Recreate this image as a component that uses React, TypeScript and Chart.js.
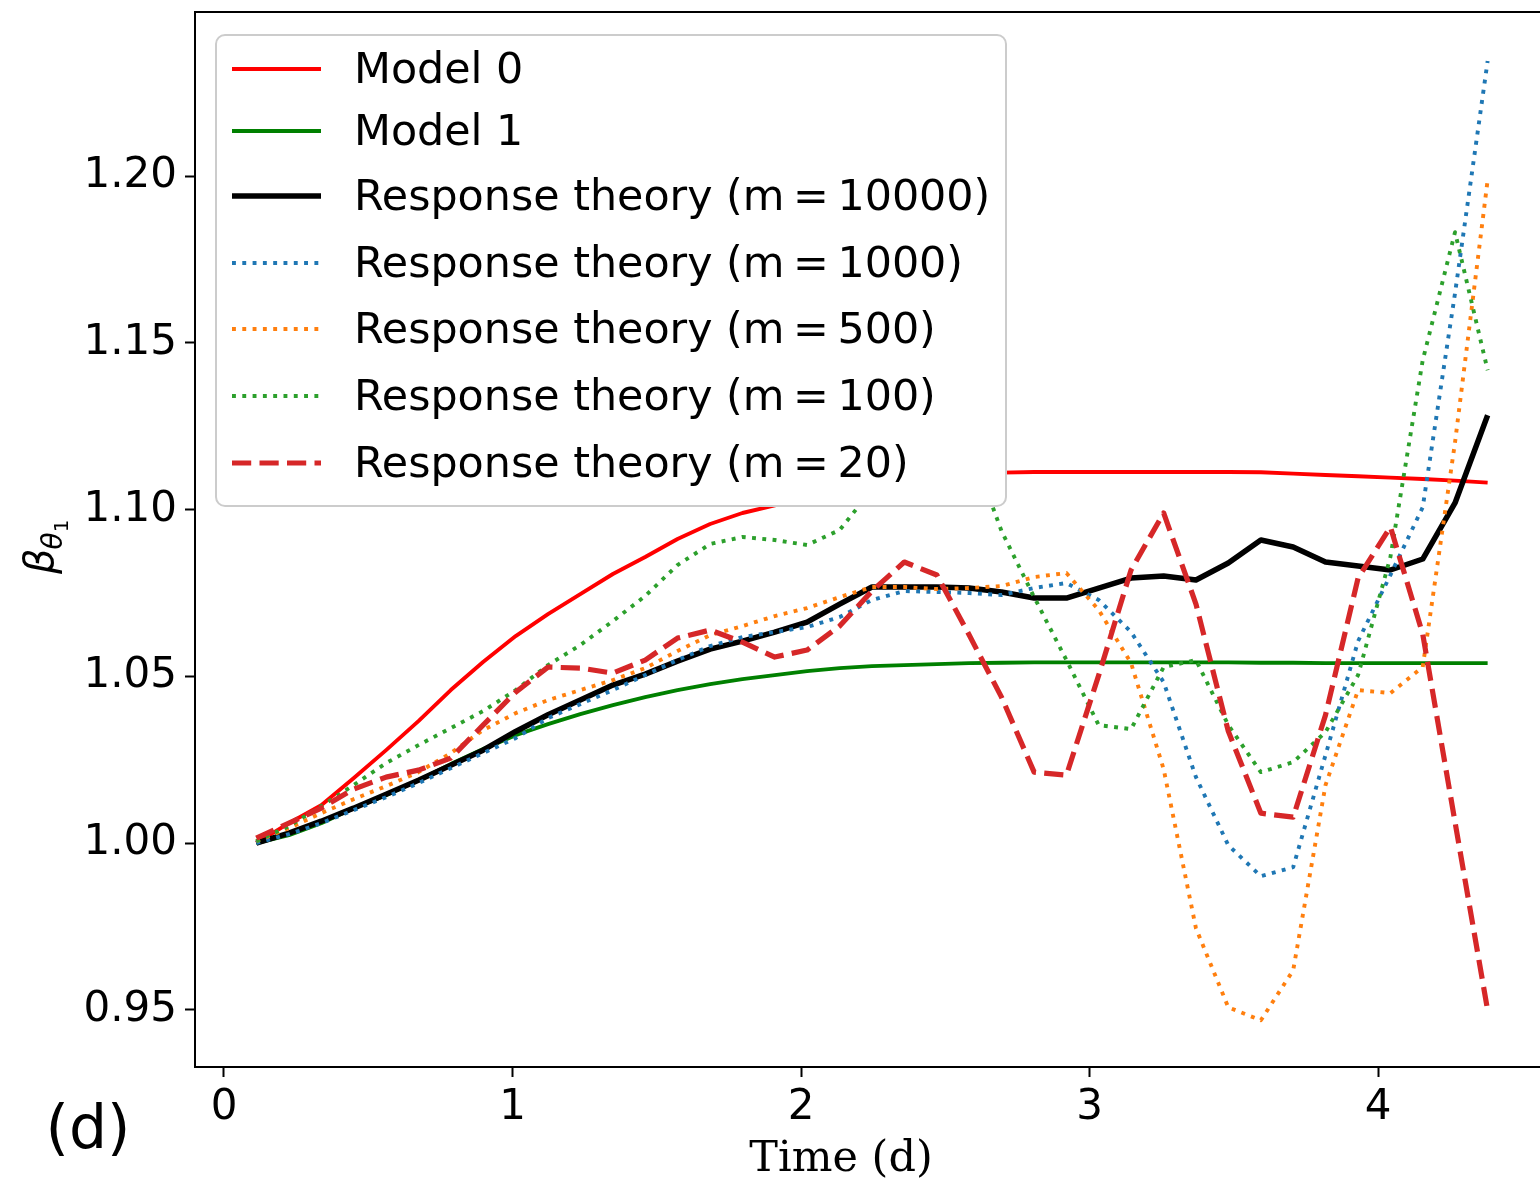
import React, { useEffect, useRef } from 'react';
import { Chart, registerables } from 'chart.js';

Chart.register(...registerables);

// ---- data ----
const times = [0.112, 0.225, 0.337, 0.449, 0.562, 0.674, 0.786, 0.898, 1.011, 1.123, 1.235, 1.348, 1.460, 1.572, 1.685, 1.797, 1.909, 2.021, 2.134, 2.246, 2.358, 2.471, 2.583, 2.695, 2.808, 2.920, 3.032, 3.144, 3.257, 3.369, 3.481, 3.594, 3.706, 3.818, 3.931, 4.043, 4.155, 4.267, 4.380];

const model0 = [1.000, 1.006, 1.0114, 1.0195, 1.0279, 1.0366, 1.0459, 1.0543, 1.0621, 1.0687, 1.0747, 1.0807, 1.0858, 1.0912, 1.0957, 1.099, 1.1013, 1.104, 1.1062, 1.108, 1.1093, 1.1102, 1.1108, 1.1111, 1.1113, 1.1113, 1.1113, 1.1113, 1.1113, 1.1113, 1.1113, 1.1112, 1.1108, 1.1104, 1.110, 1.1096, 1.1092, 1.1087, 1.1081];

const model1 = [1.000, 1.0024, 1.006, 1.0105, 1.0144, 1.0189, 1.0237, 1.0282, 1.0324, 1.0357, 1.0387, 1.0414, 1.0438, 1.0459, 1.0477, 1.0492, 1.0504, 1.0516, 1.0525, 1.0531, 1.0534, 1.0537, 1.054, 1.0541, 1.0542, 1.0542, 1.0542, 1.0542, 1.0542, 1.0542, 1.0542, 1.0541, 1.0541, 1.054, 1.054, 1.054, 1.054, 1.054, 1.054];

const rtM10000 = [1.000, 1.003, 1.0066, 1.0105, 1.0147, 1.0189, 1.0234, 1.0279, 1.0335, 1.0385, 1.0429, 1.0474, 1.0507, 1.0546, 1.0582, 1.0606, 1.0633, 1.0663, 1.0717, 1.0768, 1.0768, 1.0768, 1.0765, 1.0753, 1.0735, 1.0735, 1.0765, 1.0795, 1.0801, 1.0789, 1.084, 1.0909, 1.0888, 1.0843, 1.0831, 1.0819, 1.0852, 1.102, 1.1283];

const rtM1000 = [1.000, 1.0027, 1.006, 1.0099, 1.0138, 1.018, 1.0225, 1.027, 1.0315, 1.0375, 1.0417, 1.0459, 1.0504, 1.0549, 1.0591, 1.0618, 1.0633, 1.0648, 1.0678, 1.0729, 1.0756, 1.0753, 1.075, 1.0744, 1.0765, 1.078, 1.0729, 1.0633, 1.0483, 1.0198, 0.9994, 0.9901, 0.9928, 1.0264, 1.0606, 1.0804, 1.1007, 1.1649, 1.2345];

const rtM500 = [1.0006, 1.0045, 1.009, 1.0132, 1.0171, 1.0213, 1.027, 1.0339, 1.039, 1.0429, 1.0459, 1.0489, 1.0525, 1.0576, 1.0624, 1.0651, 1.0681, 1.0705, 1.0738, 1.0768, 1.0768, 1.0762, 1.0765, 1.0771, 1.0798, 1.081, 1.0699, 1.054, 1.0222, 0.9745, 0.9508, 0.9469, 0.9619, 1.0174, 1.0459, 1.045, 1.0528, 1.1202, 1.1988];

const rtM100 = [1.0006, 1.0051, 1.0111, 1.0174, 1.024, 1.0294, 1.0345, 1.0396, 1.0459, 1.0534, 1.0594, 1.0666, 1.0741, 1.0834, 1.0897, 1.0918, 1.0909, 1.0894, 1.0939, 1.106, 1.118, 1.125, 1.12, 1.0936, 1.0738, 1.0549, 1.0354, 1.0342, 1.0528, 1.0549, 1.0354, 1.0213, 1.0243, 1.0333, 1.0504, 1.0858, 1.1448, 1.1832, 1.1418];

const rtM20 = [1.0015, 1.006, 1.0105, 1.0162, 1.0198, 1.0219, 1.0255, 1.0354, 1.0453, 1.0528, 1.0525, 1.051, 1.0549, 1.0615, 1.0639, 1.0603, 1.0558, 1.0579, 1.0651, 1.0756, 1.0843, 1.0804, 1.0624, 1.0438, 1.0213, 1.0204, 1.0504, 1.0819, 1.099, 1.0717, 1.0336, 1.009, 1.0078, 1.0384, 1.0795, 1.0948, 1.0627, 1.0063, 0.9499];

const xTicks = [0, 1, 2, 3, 4];
const yTicks = [0.95, 1.0, 1.05, 1.1, 1.15, 1.2];

const seriesLabels = [
  'Model 0',
  'Model 1',
  'Response theory (m\u2009=\u200910000)',
  'Response theory (m\u2009=\u20091000)',
  'Response theory (m\u2009=\u2009500)',
  'Response theory (m\u2009=\u2009100)',
  'Response theory (m\u2009=\u200920)',
];
const seriesValues = [model0, model1, rtM10000, rtM1000, rtM500, rtM100, rtM20];

const DOT = [3.9, 6.4];
const DASH = [19.2, 8.3];
const seriesStyles = [
  { color: '#ff0000', width: 3.9, dash: [] as number[] },
  { color: '#008000', width: 3.9, dash: [] as number[] },
  { color: '#000000', width: 5.5, dash: [] as number[] },
  { color: '#1f77b4', width: 3.9, dash: DOT },
  { color: '#ff7f0e', width: 3.9, dash: DOT },
  { color: '#2ca02c', width: 3.9, dash: DOT },
  { color: '#d62728', width: 5.2, dash: DASH },
];

const SANS = '"DejaVu Sans", sans-serif';
const SERIF = '"DejaVu Serif", serif';

const decorPlugin = {
  id: 'decor',
  afterDatasetsDraw(chart: any) {
    const ctx: CanvasRenderingContext2D = chart.ctx;
    const { left, right, top } = chart.chartArea;
    ctx.save();
    // top spine
    ctx.strokeStyle = '#000';
    ctx.lineWidth = 2;
    ctx.setLineDash([]);
    ctx.beginPath();
    ctx.moveTo(left - 1, top);
    ctx.lineTo(right + 2, top);
    ctx.stroke();

    // legend box
    const bx = 216, by = 35, bw = 790, bh = 471, r = 9;
    ctx.beginPath();
    ctx.moveTo(bx + r, by);
    ctx.lineTo(bx + bw - r, by);
    ctx.arcTo(bx + bw, by, bx + bw, by + r, r);
    ctx.lineTo(bx + bw, by + bh - r);
    ctx.arcTo(bx + bw, by + bh, bx + bw - r, by + bh, r);
    ctx.lineTo(bx + r, by + bh);
    ctx.arcTo(bx, by + bh, bx, by + bh - r, r);
    ctx.lineTo(bx, by + r);
    ctx.arcTo(bx, by, bx + r, by, r);
    ctx.closePath();
    ctx.fillStyle = '#ffffff';
    ctx.fill();
    ctx.strokeStyle = '#cccccc';
    ctx.lineWidth = 2;
    ctx.stroke();

    const rows = [69, 131, 196, 263, 329, 396, 463];
    ctx.font = `42.8px ${SANS}`;
    ctx.textAlign = 'left';
    ctx.textBaseline = 'alphabetic';
    seriesLabels.forEach((lab, i) => {
      const st = seriesStyles[i];
      const y = rows[i];
      ctx.strokeStyle = st.color;
      ctx.lineWidth = st.width;
      ctx.setLineDash(st.dash);
      ctx.lineCap = 'butt';
      ctx.beginPath();
      ctx.moveTo(232, y);
      ctx.lineTo(321, y);
      ctx.stroke();
      ctx.setLineDash([]);
      ctx.fillStyle = '#000';
      ctx.fillText(lab, 354, y + 14);
    });
    ctx.restore();
  },
  afterDraw(chart: any) {
    const ctx: CanvasRenderingContext2D = chart.ctx;
    ctx.save();
    ctx.fillStyle = '#000';
    // x label
    ctx.font = `43px ${SERIF}`;
    ctx.textAlign = 'center';
    ctx.textBaseline = 'alphabetic';
    ctx.fillText('Time (d)', 841, 1171);
    // panel label
    ctx.font = `60px ${SANS}`;
    ctx.fillText('(d)', 88, 1148);
    // y label
    ctx.translate(53, 574);
    ctx.rotate(-Math.PI / 2);
    ctx.textAlign = 'left';
    ctx.font = `italic 40px ${SANS}`;
    ctx.fillText('\u03b2', 0, 0);
    const w1 = ctx.measureText('\u03b2').width;
    ctx.font = `italic 28px ${SANS}`;
    ctx.fillText('\u03b8', w1 - 1, 9);
    const w2 = ctx.measureText('\u03b8').width;
    ctx.font = `20px ${SANS}`;
    ctx.fillText('1', w1 + w2 - 1, 15);
    ctx.restore();
  },
};

export default function App() {
  const ref = useRef<HTMLCanvasElement>(null);
  useEffect(() => {
    document.body.style.margin = '0';
    const canvas = ref.current!;
    const datasets = seriesValues.map((vals, i) => ({
      label: seriesLabels[i],
      data: times.map((t, j) => ({ x: t, y: vals[j] })),
      borderColor: seriesStyles[i].color,
      backgroundColor: seriesStyles[i].color,
      borderWidth: seriesStyles[i].width,
      borderDash: seriesStyles[i].dash,
      borderCapStyle: 'butt' as const,
      borderJoinStyle: 'round' as const,
      pointRadius: 0,
      tension: 0,
      fill: false,
      order: seriesValues.length - i,
    }));
    const chart = new Chart(canvas, {
      type: 'line',
      data: { datasets },
      options: {
        animation: false,
        responsive: false,
        maintainAspectRatio: false,
        devicePixelRatio: 1,
        events: [],
        layout: { padding: { top: 12, left: 0, right: 0, bottom: 0 } },
        plugins: { legend: { display: false }, tooltip: { enabled: false } },
        scales: {
          x: {
            type: 'linear',
            min: -0.1005,
            max: 4.5615,
            afterBuildTicks: (s: any) => {
              s.ticks = xTicks.map((v) => ({ value: v }));
            },
            afterFit: (s: any) => {
              s.height = 111;
              s.paddingLeft = 0;
              s.paddingRight = 0;
            },
            ticks: {
              autoSkip: false,
              maxRotation: 0,
              padding: 6,
              color: '#000',
              font: { family: SANS, size: 42 },
              callback: (v: any) => String(v),
            },
            grid: { drawOnChartArea: false, drawTicks: true, tickLength: 10, tickWidth: 2, color: '#000' },
            border: { display: true, color: '#000', width: 2 },
          },
          y: {
            type: 'linear',
            min: 0.9329,
            max: 1.2492,
            afterBuildTicks: (s: any) => {
              s.ticks = yTicks.map((v) => ({ value: v }));
            },
            afterFit: (s: any) => {
              s.width = 195;
              s.paddingTop = 0;
              s.paddingBottom = 0;
            },
            ticks: {
              autoSkip: false,
              padding: 8,
              color: '#000',
              font: { family: SANS, size: 42 },
              callback: (v: any) => Number(v).toFixed(2),
            },
            grid: { drawOnChartArea: false, drawTicks: true, tickLength: 10, tickWidth: 2, color: '#000' },
            border: { display: true, color: '#000', width: 2 },
          },
        },
      },
      plugins: [decorPlugin],
    } as any);
    return () => chart.destroy();
  }, []);
  return (
    <div style={{ position: 'fixed', left: 0, top: 0, width: 1540, height: 1178, background: '#fff' }}>
      <canvas ref={ref} width={1540} height={1178} style={{ display: 'block', width: 1540, height: 1178 }} />
    </div>
  );
}
